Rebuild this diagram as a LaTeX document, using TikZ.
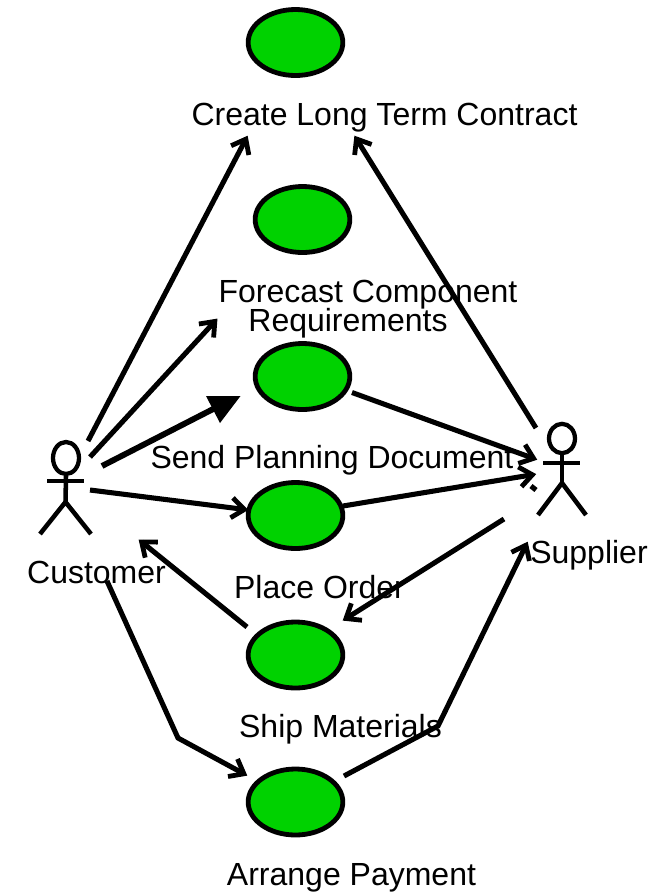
\documentclass[tikz,border=0pt]{standalone}
\usepackage{fontspec}
\setmainfont{Liberation Sans}
\usetikzlibrary{arrows.meta,shapes.geometric}
\definecolor{ucgreen}{RGB}{0,210,0}
\pgfdeclarearrow{
  name=UCBarb,
  setup code={
    \pgfarrowssettipend{0pt}
    \pgfarrowssetlineend{-3.5pt}
    \pgfarrowssetvisualbackend{-13pt}
    \pgfarrowssetbackend{-13pt}
    \pgfarrowshullpoint{0pt}{0pt}
    \pgfarrowshullpoint{-13pt}{7.5pt}
    \pgfarrowshullpoint{-13pt}{-7.5pt}
  },
  drawing code={
    \pgfsetdash{}{0pt}
    \pgfsetlinewidth{3.6pt}
    \pgfsetmiterjoin
    \pgfsetbuttcap
    \pgfpathmoveto{\pgfpoint{-13pt}{7.5pt}}
    \pgfpathlineto{\pgfpoint{-3.5pt}{0pt}}
    \pgfpathlineto{\pgfpoint{-13pt}{-7.5pt}}
    \pgfusepathqstroke
  }
}
\tikzset{
  usecase/.style={ellipse,draw=black,fill=ucgreen,line width=3.6pt,minimum width=71pt,minimum height=49.5pt,inner sep=0pt},
  lbl/.style={anchor=base,inner sep=0pt,text=black,font=\fontsize{24}{28}\selectfont},
  figure/.style={line width=3.4pt,draw=black},
  assoc/.style={line width=3.8pt,draw=black,-{UCBarb}},
  plain/.style={line width=3.8pt,draw=black},
}
\begin{document}
\begin{tikzpicture}[x=0.75pt,y=-0.75pt]
\useasboundingbox (0,0) rectangle (668,894);
% use cases
\node[usecase] (create) at (295.5,42.5) {};
\node[usecase] (forecast) at (302.5,219.5) {};
\node[usecase] (plan) at (302.5,376.5) {};
\node[usecase] (order) at (295.5,515.5) {};
\node[usecase] (ship) at (295.5,655) {};
\node[usecase] (pay) at (295.5,802) {};
% labels
\node[lbl] (tcreate) at (384.5,125) {Create Long Term Contract};
\node[lbl] (tforecast) at (368,302) {Forecast Component};
\node[lbl] (trequire) at (348,331) {Requirements};
\node[lbl] (tplan) at (332,468) {Send Planning Document};
\node[lbl] (torder) at (319.5,598) {Place Order};
\node[lbl] (tship) at (340.5,737) {Ship Materials};
\node[lbl] (tpay) at (351.5,885) {Arrange Payment};
\node[lbl] (tcust) at (96.5,583) {Customer};
\node[lbl] (tsupp) at (589,563) {Supplier};
% customer figure
\node[ellipse,draw=black,line width=3.2pt,minimum width=19.5pt,minimum height=24pt,inner sep=0pt] (chead) at (66,458) {};
\coordinate (chip) at (65.5,502);
\coordinate (carml) at (47,481);
\coordinate (carmr) at (84,481);
\coordinate (clegl) at (40,534);
\coordinate (clegr) at (91,534);
\draw[figure] (chead.south) -- (chip);
\draw[figure] (carml) -- (carmr);
\draw[figure] (clegl) -- (chip) -- (clegr);
% supplier figure
\node[ellipse,draw=black,line width=3.2pt,minimum width=19.5pt,minimum height=22pt,inner sep=0pt] (shead) at (562,438.5) {};
\coordinate (ship0) at (562,483);
\coordinate (sarml) at (543,463);
\coordinate (sarmr) at (580,463);
\coordinate (slegl) at (538,515);
\coordinate (slegr) at (586,515);
\draw[figure] (shead.south) -- (ship0);
\draw[figure] (sarml) -- (sarmr);
\draw[figure] (slegl) -- (ship0) -- (slegr);
% connector ends
\coordinate (c1) at (88,441);
\coordinate (c2) at (90,457);
\coordinate (c3) at (102,466);
\coordinate (c4) at (90,490);
\coordinate (c5) at (138,539);
\coordinate (c6) at (107,581);
\coordinate (s1) at (536,428);
\coordinate (s2) at (538,460);
\coordinate (s3) at (537,474);
\coordinate (s4) at (504,519);
\coordinate (s5) at (528,541);
\coordinate (s6a) at (531,486);
\coordinate (s6b) at (536,490);
\coordinate (createA) at (248,135);
\coordinate (createB) at (354,135);
\coordinate (forecastA) at (218,318);
\coordinate (planA) at (221,405);
\coordinate (tri1) at (206,396);
\coordinate (tri2) at (240.5,396);
\coordinate (tri3) at (220,423);
\coordinate (planB) at (352,392.5);
\coordinate (orderA) at (249,510);
\coordinate (orderB) at (343,506);
\coordinate (shipA) at (247,627);
\coordinate (shipB) at (342,621);
\coordinate (payA) at (248,776);
\coordinate (payB) at (344,776);
\coordinate (bend1) at (178,738);
\coordinate (bend2) at (438,726);
% connectors
\draw[assoc] (c1) -- (createA);
\draw[assoc] (c2) -- (forecastA);
\draw[plain,line width=4.4pt] (c3) -- (planA);
\fill[black] (tri1) -- (tri2) -- (tri3) -- cycle;
\draw[assoc] (c4) -- (orderA);
\draw[assoc] (shipA) -- (c5);
\draw[assoc] (c6) -- (bend1) -- (payA);
\draw[assoc] (payB) -- (bend2) -- (s5);
\draw[assoc] (planB) -- (s2);
\draw[assoc] (orderB) -- (s3);
\draw[assoc] (s4) -- (shipB);
\draw[assoc] (s1) -- (createB);
\draw[plain] (s6a) -- (s6b);
\end{tikzpicture}
\end{document}
